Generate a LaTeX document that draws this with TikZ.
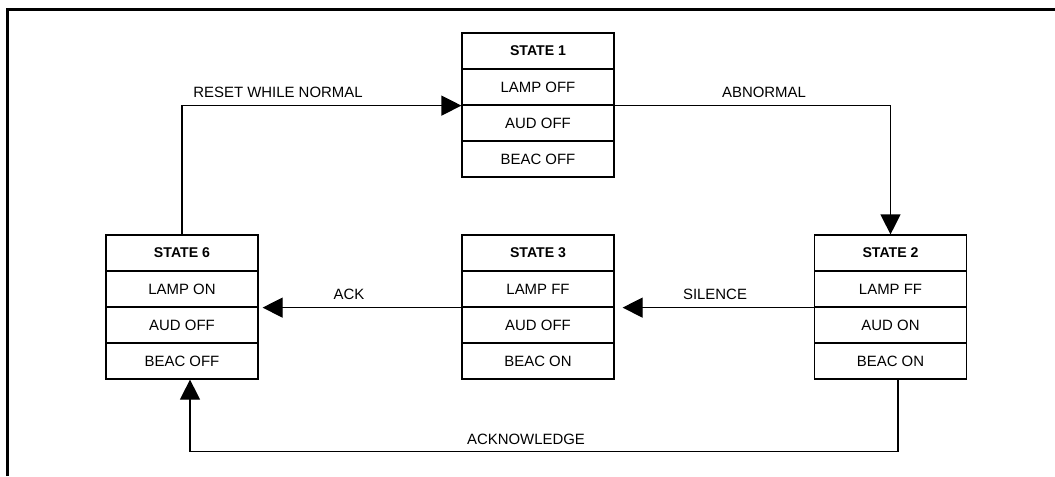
\documentclass[tikz,border=0pt]{standalone}
\usepackage{fontspec}
\setmainfont{Liberation Sans}
\usetikzlibrary{arrows.meta}

\begin{document}
\begin{tikzpicture}[x=0.75pt,y=-0.75pt,
    cell/.style={draw,line width=0.9pt,minimum width=114pt,minimum height=27pt,
      inner sep=0pt,font=\fontsize{11.2}{13}\selectfont},
    head/.style={cell,font=\fontsize{10.6}{13}\selectfont\bfseries},
    lbl/.style={inner sep=0pt,font=\fontsize{11.2}{13}\selectfont},
    flow/.style={line width=0.9pt,-{Triangle[length=15pt,width=15pt]}}]
  \useasboundingbox (0,0) rectangle (1055,476);
  \draw[line width=2.4pt] (7.5,476) |- (1055,9.5);
  \draw
    (538,51) node[head] (s1){STATE 1}
    (538,87) node[cell] (s1l){LAMP OFF}
    (538,123) node[cell] (s1a){AUD OFF}
    (538,159) node[cell] (s1b){BEAC OFF}
    (890.5,253) node[head] (s2){STATE 2}
    (890.5,289) node[cell] (s2l){LAMP FF}
    (890.5,325) node[cell] (s2a){AUD ON}
    (890.5,361) node[cell] (s2b){BEAC ON}
    (538,253) node[head] (s3){STATE 3}
    (538,289) node[cell] (s3l){LAMP FF}
    (538,325) node[cell] (s3a){AUD OFF}
    (538,361) node[cell] (s3b){BEAC ON}
    (182,253) node[head] (s6){STATE 6}
    (182,289) node[cell] (s6l){LAMP ON}
    (182,325) node[cell] (s6a){AUD OFF}
    (182,361) node[cell] (s6b){BEAC OFF};
  \draw
    (278,92.5) node[lbl] (reset){RESET WHILE NORMAL}
    (764,92.5) node[lbl] (abnormal){ABNORMAL}
    (715,294.5) node[lbl] (silence){SILENCE}
    (349,294.5) node[lbl] (ack){ACK}
    (526,439) node[lbl] (acknowledge){ACKNOWLEDGE};
  \begin{scope}[flow]
    \draw (s6.north) |- (s1l.south west);
    \draw (s1l.south east) -| (s2.north);
    \draw[shorten >=6pt] (s2l.south west) -- (s3l.south east);
    \draw[shorten >=3pt] (s3l.south west) -- (s6l.south east);
    \draw ([xshift=5.6pt]s2b.south) -- ++(0,72) -| ([xshift=6pt]s6b.south);
  \end{scope}
\end{tikzpicture}
\end{document}
